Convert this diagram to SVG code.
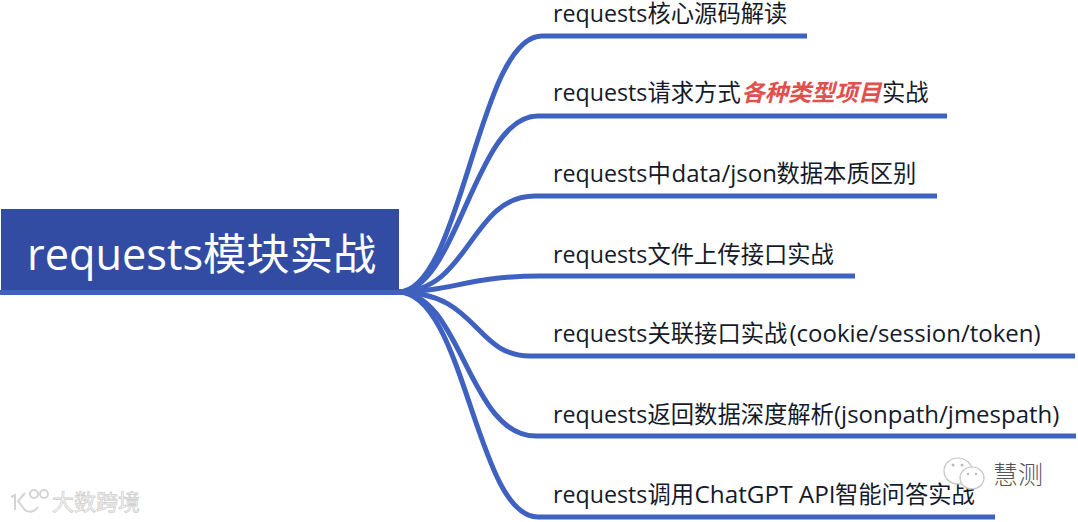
<svg xmlns="http://www.w3.org/2000/svg" width="1078" height="522" viewBox="0 0 1078 522">
<style>
.c{fill:none;stroke:#3f62c1;stroke-width:5}
.t{font-family:"Open Sans","Noto Sans CJK SC",sans-serif;font-size:24px;fill:#141a2a}
.r{font-size:23.200px}
.z{font-family:"Noto Sans CJK SC",sans-serif;font-size:23.300px}
.h{font-weight:700;font-style:italic;fill:#e0504c}
.bubble{fill:#fff;stroke:#c4c4c4;stroke-width:1.2}
.logo{fill:none;stroke:#d4d4d4;stroke-width:2}
</style>
<rect width="1078" height="522" fill="#fff"/>
<g id="connectors">
<path class="c" d="M398 292C462 292 478 36 542 36H807"/>
<path class="c" d="M398 292C458 292 474 116 538 116H947"/>
<path class="c" d="M398 292C470 292 470 196 535 196H937"/>
<path class="c" d="M398 292C450 292 470 276 540 276H855"/>
<path class="c" d="M398 292C478 292 474 356 530 356H1075"/>
<path class="c" d="M398 292C462 292 468 436 536 436H1076"/>
<path class="c" d="M398 292C465 292 476 517 538 517H995"/>
</g>
<g id="root">
<rect x="1" y="209" width="398" height="84" fill="#334ca3"/>
<path d="M0 292.500H400" stroke="#3f62c1" stroke-width="5"/>
<text x="27" y="270" font-family="'Open Sans','Noto Sans CJK SC',sans-serif" font-size="43.300" fill="#fff">requests模块实战</text>
</g>
<g id="n1"><text class="t" x="553" y="22"><tspan class="r">requests</tspan><tspan class="z" x="647.500">核心源码解读</tspan></text></g>
<g id="n2"><text class="t" x="553" y="101"><tspan class="r">requests</tspan><tspan class="z" x="647.500">请求方式</tspan><tspan class="z h" x="741.500">各种类型项目</tspan><tspan class="z" x="882">实战</tspan></text></g>
<g id="n3"><text class="t" x="553" y="182"><tspan class="r">requests</tspan><tspan class="z" x="647.500">中</tspan><tspan x="671.500">data/json</tspan><tspan class="z" x="776.500">数据本质区别</tspan></text></g>
<g id="n4"><text class="t" x="553" y="263"><tspan class="r">requests</tspan><tspan class="z" x="647.500">文件上传接口实战</tspan></text></g>
<g id="n5"><text class="t" x="553" y="342"><tspan class="r">requests</tspan><tspan class="z" x="647.500">关联接口实战</tspan><tspan x="789.500">(cookie/session/token)</tspan></text></g>
<g id="n6"><text class="t" x="553" y="423"><tspan class="r">requests</tspan><tspan class="z" x="647.500">返回数据深度解析</tspan><tspan x="834">(jsonpath/jmespath)</tspan></text></g>
<g id="n7"><text class="t" x="553" y="503"><tspan class="r">requests</tspan><tspan class="z" x="647.500">调用</tspan><tspan x="694.500" font-size="24.300">ChatGPT API</tspan><tspan class="z" x="835">智能问答实战</tspan></text></g>
<g id="watermark-left">
<path class="logo" d="M11 497L15 495V510M25 493L18 501L25 510C29 513 35 512 38 507"/>
<circle class="logo" cx="34" cy="494" r="4"/><circle class="logo" cx="44" cy="494" r="4"/>
<text x="52" y="510" font-family="'Noto Sans CJK SC',sans-serif" font-size="22" fill="#fff" stroke="#d0d0d0" stroke-width=".8">大数跨境</text>
</g>
<g id="watermark-right">
<ellipse class="bubble" cx="958" cy="471" rx="14" ry="13"/>
<ellipse class="bubble" cx="972" cy="478" rx="12" ry="11"/>
<circle cx="953" cy="465" r="1.500" fill="#bbb"/><circle cx="962" cy="465" r="1.500" fill="#bbb"/>
<circle cx="968" cy="474" r="1.200" fill="#bbb"/><circle cx="976" cy="474" r="1.200" fill="#bbb"/>
<text x="993" y="484" font-family="'Noto Sans CJK SC',sans-serif" font-size="25" font-weight="300" fill="#555">慧测</text>
</g>
</svg>
